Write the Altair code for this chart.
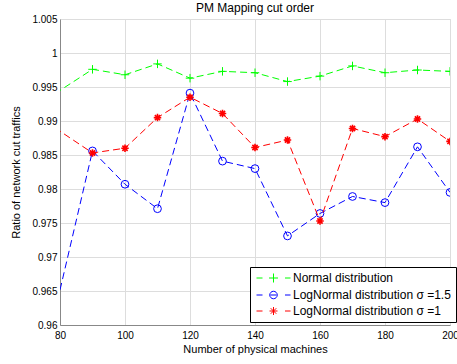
import altair as alt
import pandas as pd

# Number of physical machines (70 lies just outside the visible range; its segments enter from the left edge)
machines = [70, 90, 100, 110, 120, 130, 140, 150, 160, 170, 180, 190, 200]

# Ratio of network cut traffics per distribution
normal = [0.9914, 0.9976, 0.9968, 0.9984, 0.9963, 0.9973, 0.9971, 0.9958, 0.9966, 0.9981, 0.9971, 0.9975, 0.9973]
lognormal_15 = [0.9447, 0.9856, 0.9807, 0.9771, 0.9941, 0.9841, 0.9830, 0.9731, 0.9764, 0.9789, 0.9780, 0.9862, 0.9795]
lognormal_1 = [0.9917, 0.9853, 0.9860, 0.9905, 0.9935, 0.9911, 0.9861, 0.9872, 0.9753, 0.9889, 0.9877, 0.9903, 0.9870]

series_names = [
    "Normal distribution",
    "LogNormal distribution σ =1.5",
    "LogNormal distribution σ =1",
]
series_values = [normal, lognormal_15, lognormal_1]
series_colors = ["#00ff00", "#0000ff", "#ff0000"]

x_ticks = [80, 100, 120, 140, 160, 180, 200]
y_ticks = [0.96, 0.965, 0.97, 0.975, 0.98, 0.985, 0.99, 0.995, 1.0, 1.005]

# Marker outlines used on the plotted points
marker_paths = [
    "M-1,0H1M0,-1V1",
    "circle",
    "M-1,0H1M0,-1V1M-0.7,-0.7L0.7,0.7M-0.7,0.7L0.7,-0.7",
]
marker_sizes = [72, 60, 56]
marker_widths = [1, 1, 1.6]

# Legend glyphs: dash, marker, dash
legend_paths = [
    "M-0.9,0H0.3M1.6,0H3.4M2.5,-0.9V0.9M4.8,0H5.9",
    "M-0.9,0H0.3M1.9,0H3.1M1.75,0A0.75,0.75 0 1,0 3.25,0A0.75,0.75 0 1,0 1.75,0M4.8,0H5.9",
    "M-0.9,0H0.3M1.7,0H3.3M2.5,-0.8V0.8M1.95,-0.55L3.05,0.55M1.95,0.55L3.05,-0.55M4.8,0H5.9",
]

rows = []
for name, values in zip(series_names, series_values):
    for m, v in zip(machines, values):
        rows.append({"machines": m, "ratio": v, "series": name})
df = pd.DataFrame(rows)

x_enc = alt.X(
    "machines:Q",
    scale=alt.Scale(domain=[80, 200], nice=False, zero=False),
    axis=alt.Axis(values=x_ticks, format="d", title="Number of physical machines",
                  titleFontWeight="normal", labelFlush=False, ticks=False, tickSize=0,
                  labelPadding=5, titlePadding=3),
)
y_enc = alt.Y(
    "ratio:Q",
    scale=alt.Scale(domain=[0.96, 1.005], nice=False, zero=False),
    axis=alt.Axis(values=y_ticks, format=".4~f", title="Ratio of network cut traffics",
                  titleFontWeight="normal", labelFlush=False, ticks=False, tickSize=0,
                  labelPadding=3, titlePadding=10),
)

base = alt.Chart(df)
layers = []
for name, color, path, size, sw in zip(series_names, series_colors, marker_paths, marker_sizes, marker_widths):
    sub = base.transform_filter(alt.datum.series == name)
    layers.append(
        sub.mark_line(clip=True, color=color, strokeWidth=1, strokeDash=[7, 4]).encode(x=x_enc, y=y_enc)
    )
    layers.append(
        sub.mark_point(clip=True, shape=path, size=size, filled=False, color=color,
                       strokeWidth=sw, opacity=1).encode(x=x_enc, y=y_enc)
    )

legend_spec = alt.Legend(
    title=None,
    orient="none",
    legendX=190,
    legendY=248,
    padding=5,
    strokeColor="black",
    fillColor="white",
    cornerRadius=0,
    symbolSize=100,
    symbolStrokeWidth=1,
    symbolOpacity=1,
    labelOffset=26,
    labelFontSize=12,
    labelFont="Liberation Sans",
    labelColor="black",
    labelLimit=400,
    rowPadding=4,
)

legend_layer = base.transform_filter("datum.machines < 0").mark_point(
    filled=False, opacity=1
).encode(
    x=x_enc,
    y=y_enc,
    color=alt.Color("series:N", scale=alt.Scale(domain=series_names, range=series_colors), legend=legend_spec),
    shape=alt.Shape("series:N", scale=alt.Scale(domain=series_names, range=legend_paths), legend=legend_spec),
)

chart = alt.layer(*layers, legend_layer).properties(
    width=390,
    height=306,
    autosize=alt.AutoSizeParams(type="none"),
    padding={"left": 60, "top": 19, "right": 7, "bottom": 39},
    title=alt.Title("PM Mapping cut order", fontSize=12, fontWeight="normal",
                    font="Liberation Sans", color="black", offset=0, dy=10, anchor="middle",
                    baseline="alphabetic", frame="group"),
).configure_view(
    stroke="black", strokeWidth=1
).configure_axis(
    labelFont="Liberation Sans",
    titleFont="Liberation Sans",
    labelFontSize=12,
    titleFontSize=12,
    titleFontWeight="normal",
    labelColor="black",
    titleColor="black",
    domain=False,
    grid=True,
    gridColor="#404040",
    gridDash=[1, 3],
    gridWidth=1,
    gridOpacity=1,
).configure(background="white")

chart.save("out.html", embed_options={"renderer": "svg", "actions": False})
